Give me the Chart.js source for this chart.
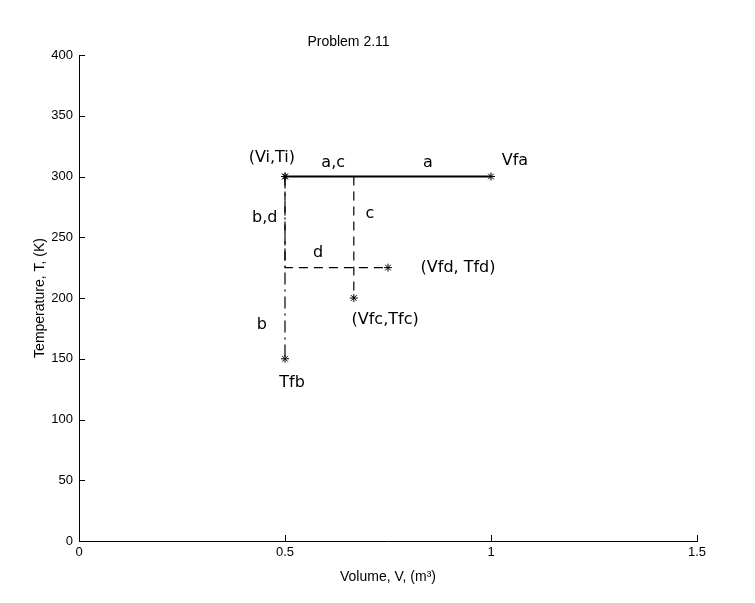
<!DOCTYPE html>
<html lang="en">
<head>
    <meta charset="UTF-8">
    <title>Problem 2.11</title>
</head>
<body style="margin: 0; background: #fff;">
    <div style="width: 755px; height: 603px;">
        <canvas id="myChart"></canvas>
    </div>

    <script src="https://cdn.jsdelivr.net/npm/chart.js@4.4.0/dist/chart.umd.min.js"></script>
    <script>
        // processes, V in m^3 and T in K
        const aV = [0.5, 1];
        const aT = [300, 300];
        const bV = [0.5, 0.5];
        const bT = [300, 150];
        const cV = [0.5, 0.667, 0.667];
        const cT = [300, 300, 200];
        const dV = [0.5, 0.5, 0.75];
        const dT = [300, 225, 225];

        const xTicks = [0, 0.5, 1, 1.5];
        const yTicks = [0, 50, 100, 150, 200, 250, 300, 350, 400];

        // hand written notes on the plot
        const noteText = ['(Vi,Ti)', 'a,c', 'a', 'Vfa', 'b,d', 'c', 'd', '(Vfd, Tfd)', '(Vfc,Tfc)', 'b', 'Tfb'];
        const noteV = [0.468, 0.617, 0.847, 1.058, 0.451, 0.706, 0.58, 0.92, 0.743, 0.444, 0.517];
        const noteT = [315, 311, 311, 313, 266, 269, 237, 225, 182, 178, 130];

        function pts(xs, ys) {
            return xs.map((x, i) => ({ x: x, y: ys[i] }));
        }

        function line(data, dash, markers, width) {
            return {
                data: data,
                showLine: true,
                borderColor: '#000',
                backgroundColor: '#000',
                borderWidth: width || 1.2,
                borderDash: dash,
                pointStyle: 'star',
                pointRadius: markers,
                pointBorderWidth: 1,
                pointBorderColor: '#000'
            };
        }

        // matlab style inward ticks + the notes
        const extras = {
            id: 'extras',
            afterDraw(chart) {
                const ctx = chart.ctx;
                const xs = chart.scales.x, ys = chart.scales.y;
                const area = chart.chartArea;
                ctx.save();
                ctx.strokeStyle = '#000';
                ctx.lineWidth = 1;
                ctx.beginPath();
                xTicks.forEach(v => {
                    const px = Math.round(xs.getPixelForValue(v)) + 0.5;
                    ctx.moveTo(px, area.bottom);
                    ctx.lineTo(px, area.bottom - 6);
                });
                yTicks.forEach(v => {
                    const py = Math.round(ys.getPixelForValue(v)) + 0.5;
                    ctx.moveTo(area.left, py);
                    ctx.lineTo(area.left + 6, py);
                });
                ctx.stroke();

                ctx.fillStyle = '#000';
                ctx.font = '16px "DejaVu Sans"';
                ctx.textAlign = 'center';
                ctx.textBaseline = 'middle';
                noteText.forEach((t, i) => {
                    ctx.fillText(t, xs.getPixelForValue(noteV[i]), ys.getPixelForValue(noteT[i]));
                });
                ctx.restore();
            }
        };

        Chart.defaults.font.family = '"Liberation Sans", Arial, sans-serif';
        Chart.defaults.color = '#000';

        const config = {
            type: 'scatter',
            data: {
                datasets: [
                    line(pts(cV, cT).slice(0, 2), [2, 2], 0, 1),
                    line(pts(cV, cT).slice(1), [9, 6], [0, 4]),
                    line(pts(dV, dT), [9, 6], [0, 0, 4]),
                    line(pts(bV, bT), [12, 5, 2, 5], [4, 4]),
                    line(pts(aV, aT), [], [4, 4], 1.8)
                ]
            },
            options: {
                responsive: true,
                maintainAspectRatio: false,
                animation: false,
                layout: { padding: { left: 0, right: 58, top: 0, bottom: 0 } },
                plugins: {
                    legend: { display: false },
                    tooltip: { enabled: false },
                    title: {
                        display: true,
                        text: 'Problem 2.11',
                        font: { size: 14, weight: 'normal' },
                        padding: { top: 33.6, bottom: 4.6 }
                    }
                },
                scales: {
                    x: {
                        type: 'linear',
                        min: 0,
                        max: 1.5,
                        afterBuildTicks: s => { s.ticks = xTicks.map(v => ({ value: v })); },
                        ticks: { font: { size: 13 }, padding: 4, maxRotation: 0, callback: v => String(v) },
                        grid: { display: false, drawTicks: false },
                        border: { color: '#000', width: 1 },
                        title: { display: true, text: 'Volume, V, (m³)', font: { size: 14 }, padding: { top: 4, bottom: 17.6 } },
                        afterFit: s => { s.height = 62; }
                    },
                    y: {
                        type: 'linear',
                        min: 0,
                        max: 400,
                        afterBuildTicks: s => { s.ticks = yTicks.map(v => ({ value: v })); },
                        ticks: { font: { size: 13 }, padding: 6, callback: v => String(v) },
                        grid: { display: false, drawTicks: false },
                        border: { color: '#000', width: 1 },
                        title: { display: true, text: 'Temperature, T, (K)', font: { size: 14 }, padding: { top: 31.6, bottom: 4 } },
                        afterFit: s => { s.width = 79; }
                    }
                }
            },
            plugins: [extras]
        };

        const myChart = new Chart(document.getElementById('myChart'), config);
    </script>
</body>
</html>
